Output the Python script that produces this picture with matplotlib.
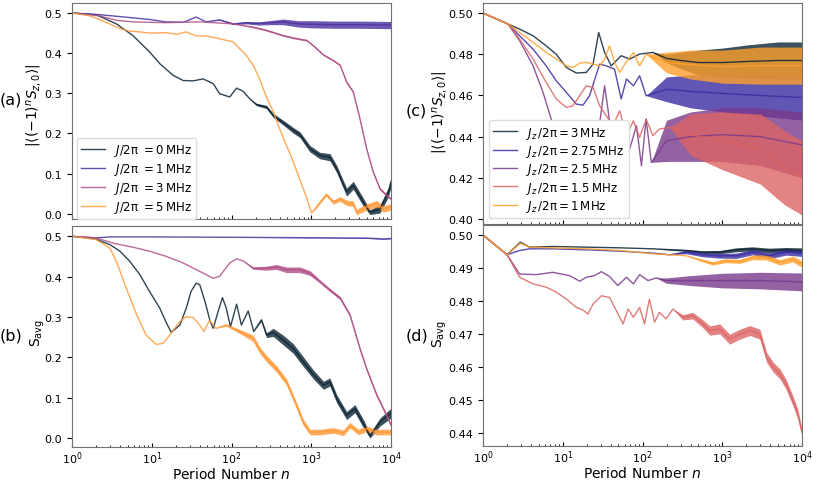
import numpy as np
import matplotlib
matplotlib.use("Agg")
import matplotlib.pyplot as plt

# ---- panel (a): |<(-1)^n S_z,0>| vs period number ----
a_j0_n = [1, 2, 3.6, 5.8, 9.4, 12.6, 18.5, 24.7, 33, 44, 59, 71, 95, 116, 140, 170,
          206, 275, 333, 445, 594, 721, 962, 1285, 1714, 2080, 2778, 3366, 4498, 5450, 7278, 9270, 10000]
a_j0_y = [0.5, 0.496, 0.473, 0.444, 0.403, 0.374, 0.345, 0.332, 0.331, 0.336, 0.324, 0.299, 0.291, 0.313, 0.305, 0.286,
          0.272, 0.266, 0.245, 0.227, 0.208, 0.197, 0.162, 0.145, 0.141, 0.112, 0.054, 0.071, 0.029, 0.004, 0.012, 0.054, 0.079]
a_j0_w = [0] * 16 + [0.003, 0.004, 0.005, 0.006, 0.007, 0.007, 0.008, 0.008, 0.009, 0.009, 0.01, 0.01, 0.01, 0.006, 0.01, 0.012, 0.012]

a_j1_n = [1, 2.2, 5.8, 9.4, 15, 25, 36, 48, 71, 105, 154, 220, 300, 445, 700, 1000, 2000, 4000, 10000]
a_j1_y = [0.5, 0.496, 0.488, 0.484, 0.478, 0.477, 0.49, 0.478, 0.483, 0.473, 0.476, 0.474, 0.476, 0.478, 0.473, 0.472, 0.471, 0.471, 0.470]
a_j1_w = [0, 0, 0, 0, 0, 0, 0, 0, 0.001, 0.002, 0.003, 0.004, 0.005, 0.007, 0.008, 0.009, 0.009, 0.009, 0.009]

a_j3_n = [1, 2.2, 3.6, 5.8, 15, 40, 105, 187, 275, 445, 594, 875, 1060, 1420, 1890, 2300,
          2778, 3366, 4070, 4940, 5980, 7278, 8820, 10000]
a_j3_y = [0.5, 0.493, 0.482, 0.478, 0.476, 0.478, 0.473, 0.465, 0.457, 0.444, 0.438, 0.432, 0.419, 0.396, 0.382, 0.370,
          0.328, 0.303, 0.237, 0.162, 0.104, 0.062, 0.046, 0.037]
a_j3_w = [0] * 7 + [0.002] * 9 + [0.003] * 8

a_j5_n = [1, 1.67, 2.2, 2.97, 3.97, 5.3, 7.1, 9.4, 15.3, 20.5, 27, 36, 48, 64, 86, 105,
          127, 154, 187, 226, 275, 333, 404, 490, 594, 721, 875, 1010, 1160, 1540, 1890, 2300,
          2778, 3366, 3690, 4940, 6640, 8030, 10000]
a_j5_y = [0.5, 0.493, 0.484, 0.473, 0.461, 0.455, 0.453, 0.45, 0.451, 0.447, 0.453, 0.443, 0.443, 0.438, 0.432, 0.428,
          0.411, 0.394, 0.370, 0.335, 0.29, 0.255, 0.21, 0.17, 0.13, 0.085, 0.04, 0.002, 0.017, 0.048, 0.029, 0.037,
          0.027, 0.025, 0.004, 0.017, 0.025, 0.012, 0.017]
a_j5_w = [0] * 28 + [0.003, 0.004, 0.005, 0.006, 0.007, 0.007, 0.007, 0.008, 0.008, 0.008, 0.008]

# ---- panel (b): S_avg ----
b_j0_n = [1, 2, 3, 4, 5.3, 7.1, 9.4, 12.6, 15.3, 17.6, 22.5, 27, 31, 36, 40, 46.6, 54, 59, 68, 77, 86, 97,
          116, 133, 162, 190, 237, 275, 333, 445, 594, 790, 1060, 1420, 1714, 2080, 2778, 3530, 4500, 5450, 7280, 10000]
b_j0_y = [0.5, 0.493, 0.479, 0.463, 0.438, 0.405, 0.363, 0.322, 0.285, 0.262, 0.28, 0.321, 0.363, 0.384, 0.38, 0.338,
          0.289, 0.272, 0.314, 0.348, 0.322, 0.276, 0.332, 0.28, 0.315, 0.264, 0.293, 0.255, 0.262, 0.243, 0.222, 0.19,
          0.158, 0.131, 0.139, 0.098, 0.056, 0.073, 0.036, 0.006, 0.040, 0.062]
b_j0_w = [0] * 26 + [0.003, 0.006, 0.01, 0.012, 0.012, 0.012, 0.011, 0.01, 0.01, 0.01, 0.01, 0.01, 0.01, 0.006, 0.01, 0.012]

b_j1_n = [1, 2, 3, 10, 100, 1000, 5000, 8000, 10000]
b_j1_y = [0.5, 0.496, 0.4985, 0.4985, 0.4975, 0.4965, 0.4955, 0.4935, 0.4945]
b_j1_w = [0, 0, 0, 0, 0, 0.0005, 0.001, 0.001, 0.001]

b_j3_n = [1, 2, 3.27, 5.8, 9.4, 15.3, 24.7, 40, 59, 71, 95, 116, 140, 187, 275, 365,
          490, 721, 962, 1285, 1714, 2300, 3060, 4070, 4940, 6640, 8820, 10000]
b_j3_y = [0.5, 0.496, 0.483, 0.473, 0.463, 0.45, 0.434, 0.413, 0.396, 0.401, 0.434, 0.444, 0.439, 0.421, 0.421, 0.424,
          0.417, 0.417, 0.409, 0.388, 0.367, 0.347, 0.305, 0.222, 0.172, 0.106, 0.056, 0.032]
b_j3_w = [0] * 13 + [0.003, 0.005, 0.006, 0.007, 0.007, 0.006, 0.004, 0.004, 0.004, 0.004, 0.004, 0.004, 0.004, 0.004, 0.004]

b_j5_n = [1, 2, 2.97, 3.6, 4.8, 6.5, 8.5, 11.4, 13.9, 16.8, 22.5, 27, 33, 40, 45, 53,
          64, 86, 105, 140, 187, 226, 275, 365, 490, 653, 790, 962, 1285, 1890, 2530, 3060,
          3900, 4940, 6640, 10000]
b_j5_y = [0.5, 0.492, 0.471, 0.438, 0.371, 0.305, 0.255, 0.232, 0.235, 0.255, 0.289, 0.301, 0.299, 0.280, 0.264, 0.292,
          0.272, 0.280, 0.272, 0.260, 0.247, 0.218, 0.197, 0.172, 0.139, 0.081, 0.040, 0.015, 0.015, 0.019, 0.013, 0.032,
          0.015, 0.023, 0.015, 0.015]
b_j5_w = [0] * 17 + [0.003, 0.004, 0.006, 0.008, 0.008, 0.008, 0.008, 0.008, 0.008, 0.008, 0.007, 0.007, 0.007, 0.007, 0.007,
                     0.007, 0.007, 0.007, 0.007]

# ---- panel (c): |<(-1)^n S_z,0>| for several J_z ----
c_j3_n = [1, 2.06, 2.88, 4.24, 6.2, 8.3, 11.1, 14.8, 19.7, 24, 28.2, 33.5, 40.5, 47, 54, 69, 92, 135,
          200, 300, 500, 1000, 2000, 5000, 10000]
c_j3_y = [0.5, 0.4947, 0.4922, 0.489, 0.4841, 0.480, 0.4736, 0.4709, 0.4712, 0.4752, 0.4906, 0.4809, 0.4744, 0.4769,
          0.4793, 0.4777, 0.4801, 0.4809, 0.478, 0.477, 0.476, 0.476, 0.4765, 0.477, 0.477]
c_j3_w = [0] * 18 + [0.002, 0.004, 0.006, 0.007, 0.008, 0.009, 0.009]

c_j275_n = [1, 2.06, 2.88, 4.24, 6.2, 8.3, 11.1, 14.8, 17.9, 21.7, 29, 35, 44.6, 54, 63, 77, 92, 111,
            200, 400, 1000, 3000, 10000]
c_j275_y = [0.5, 0.4947, 0.489, 0.4825, 0.4744, 0.4671, 0.4615, 0.4558, 0.4553, 0.4599, 0.4752, 0.4744, 0.4728, 0.4583,
            0.468, 0.4647, 0.4696, 0.4599, 0.463, 0.462, 0.461, 0.460, 0.459]
c_j275_w = [0] * 18 + [0.006, 0.008, 0.009, 0.01, 0.011]

c_j25_n = [1, 2.06, 2.88, 4.24, 5.66, 7.6, 10.1, 13.4, 17.1, 21.7, 26.3, 33.5, 40.5, 44.6, 51.7, 60,
           69, 84, 97, 111, 129, 200, 400, 1000, 3000, 10000]
c_j25_y = [0.5, 0.4947, 0.4866, 0.4744, 0.4615, 0.4453, 0.434, 0.4243, 0.4186, 0.4186, 0.434, 0.4647, 0.4421, 0.4194,
           0.4372, 0.4469, 0.434, 0.4453, 0.4259, 0.4485, 0.4275, 0.438, 0.440, 0.441, 0.440, 0.436]
c_j25_w = [0] * 21 + [0.01, 0.012, 0.013, 0.014, 0.016]

c_j15_n = [1, 2.06, 2.88, 4.24, 6.2, 8.3, 11.1, 13.4, 16.3, 19.7, 24, 29, 35, 42.6, 51.7, 63,
           77, 92, 111, 135, 163, 219, 400, 1000, 3000, 6000, 10000]
c_j15_y = [0.5, 0.4947, 0.4874, 0.4777, 0.4663, 0.4583, 0.4542, 0.455, 0.4599, 0.4647, 0.4639, 0.455, 0.4502, 0.4453,
           0.4526, 0.4405, 0.4477, 0.4396, 0.4485, 0.4405, 0.4437, 0.4445, 0.441, 0.438, 0.434, 0.425, 0.42]
c_j15_w = [0] * 22 + [0.01, 0.014, 0.017, 0.018, 0.018]

c_j1_n = [1, 2.06, 2.88, 4.24, 6.2, 8.3, 11.1, 13.4, 16.3, 19.7, 24, 29, 33.5, 38.7, 44.6, 51.7,
          60, 77, 92, 111, 200, 400, 1000, 3000, 10000]
c_j1_y = [0.5, 0.4947, 0.4906, 0.4858, 0.4809, 0.4777, 0.4744, 0.4736, 0.4757, 0.4761, 0.4752, 0.4744, 0.4777, 0.4841,
          0.4761, 0.4712, 0.4752, 0.4809, 0.4744, 0.480, 0.476, 0.475, 0.474, 0.4745, 0.4745]
c_j1_w = [0] * 20 + [0.005, 0.007, 0.008, 0.009, 0.009]

# ---- panel (d): S_avg for several J_z ----
d_j3_n = [1, 2, 2.94, 3.84, 7.5, 19.7, 51.7, 135, 353, 574, 930, 1500, 2410, 3900, 6300, 10000]
d_j3_y = [0.5, 0.494, 0.4978, 0.4963, 0.4965, 0.4963, 0.4961, 0.4958, 0.4953, 0.4948, 0.4948, 0.4955, 0.4958,
          0.4953, 0.4955, 0.4953]
d_j3_w = [0] * 8 + [0.0003, 0.0004, 0.0005, 0.0006, 0.0006, 0.0007, 0.0007, 0.0008]

d_j275_n = [1, 2, 2.88, 3.84, 7.5, 19.7, 51.7, 135, 219, 353, 574, 930, 1500, 2410, 3900, 6300, 10000]
d_j275_y = [0.5, 0.494, 0.4953, 0.4958, 0.4958, 0.4955, 0.4951, 0.4945, 0.494, 0.4948, 0.494, 0.4937, 0.4937,
            0.4948, 0.4937, 0.4948, 0.4945]
d_j275_w = [0] * 9 + [0.0005, 0.0006, 0.0007, 0.0008, 0.0008, 0.0009, 0.0009, 0.001]

d_j25_n = [1, 2, 2.88, 4.66, 7.5, 12.2, 16.3, 19.7, 25, 30.5, 38.7, 49, 63, 77, 92, 117,
           149, 198, 400, 1000, 3000, 10000]
d_j25_y = [0.5, 0.494, 0.4882, 0.488, 0.4887, 0.4877, 0.486, 0.4872, 0.4877, 0.4889, 0.4874, 0.4847, 0.4872, 0.4852,
           0.488, 0.4862, 0.487, 0.4862, 0.4862, 0.4862, 0.4862, 0.4858]
d_j25_w = [0] * 17 + [0.0008, 0.0015, 0.0022, 0.0025, 0.0027]

d_j15_n = [1, 2, 2.88, 4.24, 6.2, 8.3, 11.1, 14.8, 17.9, 20.7, 24, 30.5, 38.7, 47, 57, 66,
           77, 92, 106, 122, 142, 163, 198, 240, 320, 427, 574, 697, 930, 1240, 1660, 2220,
           2960, 3600, 4360, 5290, 6300, 7680, 8870, 10000]
d_j15_y = [0.5, 0.494, 0.4872, 0.4852, 0.4842, 0.4827, 0.4806, 0.4781, 0.4773, 0.4761, 0.4791, 0.4816, 0.4811, 0.4771,
           0.4731, 0.4776, 0.4751, 0.4781, 0.4731, 0.4806, 0.4736, 0.4766, 0.4746, 0.4776, 0.4751, 0.4756, 0.4731,
           0.4711, 0.4716, 0.4685, 0.47, 0.4711, 0.47, 0.463, 0.46, 0.458, 0.4549, 0.4499, 0.4458, 0.4403]
d_j15_w = [0] * 24 + [0.0008, 0.001, 0.0012, 0.0014] + [0.0015] * 11 + [0.001]

d_j1_n = [1, 2, 2.94, 3.84, 7.5, 19.7, 51.7, 135, 219, 353, 574, 763, 1100, 1660, 2410, 3600, 5290, 7680, 10000]
d_j1_y = [0.5, 0.494, 0.4975, 0.4963, 0.4961, 0.4958, 0.4953, 0.4943, 0.494, 0.4937, 0.4922, 0.4914, 0.4922, 0.492,
          0.4932, 0.4932, 0.4917, 0.4927, 0.4912]
d_j1_w = [0] * 10 + [0.0004, 0.0005, 0.0006, 0.0006, 0.0007, 0.0008, 0.0008, 0.0009, 0.001]

labels_left = [r'$J/2\mathrm{\pi}\ = 0\,\mathrm{MHz}$', r'$J/2\mathrm{\pi}\ = 1\,\mathrm{MHz}$',
               r'$J/2\mathrm{\pi}\ = 3\,\mathrm{MHz}$', r'$J/2\mathrm{\pi}\ = 5\,\mathrm{MHz}$']
labels_right = [r'$J_z\,/2\mathrm{\pi} = 3\,\mathrm{MHz}$', r'$J_z\,/2\mathrm{\pi} = 2.75\,\mathrm{MHz}$',
                r'$J_z\,/2\mathrm{\pi} = 2.5\,\mathrm{MHz}$', r'$J_z\,/2\mathrm{\pi} = 1.5\,\mathrm{MHz}$',
                r'$J_z\,/2\mathrm{\pi} = 1\,\mathrm{MHz}$']

colors_left = ['#0c2434', '#4a30a0', '#b04f86', '#ff9a3a']
colors_right = ['#0c2434', '#3a2ca0', '#7a3a8c', '#dc6464', '#ffa02c']

plt.rcParams['axes.edgecolor'] = '#707070'
plt.rcParams['xtick.labelsize'] = 8
plt.rcParams['ytick.labelsize'] = 8

W, H = 830, 481
fig = plt.figure(figsize=(W / 100, H / 100), dpi=100)


def px_axes(left, right, top, bottom):
    return fig.add_axes([left / W, 1 - bottom / H, (right - left) / W, (bottom - top) / H])


ax_a = px_axes(72, 391, 4, 220)
ax_b = px_axes(72, 391, 227, 448)
ax_c = px_axes(483, 802, 4, 225)
ax_d = px_axes(483, 802, 226, 447)


def draw(ax, n, y, w, color, label):
    n = np.array(n, dtype=float)
    y = np.array(y, dtype=float)
    w = np.array(w, dtype=float)
    ax.fill_between(n, y - w, y + w, color=color, alpha=0.8, lw=0)
    ax.plot(n, y, color=color, lw=1.0, alpha=0.85, label=label)


left_a = [(a_j0_n, a_j0_y, a_j0_w), (a_j1_n, a_j1_y, a_j1_w), (a_j3_n, a_j3_y, a_j3_w), (a_j5_n, a_j5_y, a_j5_w)]
left_b = [(b_j0_n, b_j0_y, b_j0_w), (b_j1_n, b_j1_y, b_j1_w), (b_j3_n, b_j3_y, b_j3_w), (b_j5_n, b_j5_y, b_j5_w)]
right_c = [(c_j3_n, c_j3_y, c_j3_w), (c_j275_n, c_j275_y, c_j275_w), (c_j25_n, c_j25_y, c_j25_w),
           (c_j15_n, c_j15_y, c_j15_w), (c_j1_n, c_j1_y, c_j1_w)]
right_d = [(d_j3_n, d_j3_y, d_j3_w), (d_j275_n, d_j275_y, d_j275_w), (d_j25_n, d_j25_y, d_j25_w),
           (d_j15_n, d_j15_y, d_j15_w), (d_j1_n, d_j1_y, d_j1_w)]

for (n, y, w), c, lab in zip(left_a, colors_left, labels_left):
    draw(ax_a, n, y, w, c, lab)
for (n, y, w), c, lab in zip(left_b, colors_left, labels_left):
    draw(ax_b, n, y, w, c, lab)
for (n, y, w), c, lab in zip(right_c, colors_right, labels_right):
    draw(ax_c, n, y, w, c, lab)
for (n, y, w), c, lab in zip(right_d, colors_right, labels_right):
    draw(ax_d, n, y, w, c, lab)

for ax in (ax_a, ax_b, ax_c, ax_d):
    ax.set_xscale('log')
    ax.set_xlim(1, 1e4)
    ax.tick_params(axis='x', which='major', direction='in', length=3, pad=2)
    ax.tick_params(axis='x', which='minor', direction='in', length=1.5)

ax_a.set_ylim(-0.013, 0.525)
ax_b.set_ylim(-0.022, 0.5255)
ax_c.set_ylim(0.3976, 0.5049)
ax_d.set_ylim(0.4362, 0.503)

ax_a.set_yticks([0.0, 0.1, 0.2, 0.3, 0.4, 0.5])
ax_b.set_yticks([0.0, 0.1, 0.2, 0.3, 0.4, 0.5])
ax_a.set_yticklabels(['0.0', '0.1', '0.2', '0.3', '0.4', '0.5'])
ax_b.set_yticklabels(['0.0', '0.1', '0.2', '0.3', '0.4', '0.5'])
ax_c.set_yticks([0.40, 0.42, 0.44, 0.46, 0.48, 0.50])
ax_c.set_yticklabels(['0.40', '0.42', '0.44', '0.46', '0.48', '0.50'])
ax_d.set_yticks([0.44, 0.45, 0.46, 0.47, 0.48, 0.49, 0.50])
ax_d.set_yticklabels(['0.44', '0.45', '0.46', '0.47', '0.48', '0.49', '0.50'])

ax_a.tick_params(labelbottom=False)
ax_c.tick_params(labelbottom=False)

ax_b.set_xlabel(r'Period Number $n$', fontsize=10, labelpad=0)
ax_d.set_xlabel(r'Period Number $n$', fontsize=10, labelpad=0)

ax_a.legend(loc='lower left', bbox_to_anchor=(0.015, 0.0), borderaxespad=0, fontsize=8.5,
            handlelength=2.0, labelspacing=0.25, borderpad=0.35, framealpha=1,
            edgecolor='#dddddd', fancybox=True)
ax_c.legend(loc='lower left', fontsize=8.5, handlelength=2.0, labelspacing=0.2, borderpad=0.35,
            framealpha=1, edgecolor='#dddddd', fancybox=True)

# y labels and panel letters placed in pixel coordinates
fig.text(35 / W, 1 - 105 / H, r'$|\langle(-1)^n S_{z,0}\rangle|$', rotation=90,
         ha='center', va='center', fontsize=10)
fig.text(38 / W, 1 - 333 / H, r'$\mathrm{S_{avg}}$', rotation=90, ha='center', va='center', fontsize=10)
fig.text(440 / W, 1 - 112 / H, r'$|\langle(-1)^n S_{z,0}\rangle|$', rotation=90,
         ha='center', va='center', fontsize=10)
fig.text(440 / W, 1 - 334 / H, r'$\mathrm{S_{avg}}$', rotation=90, ha='center', va='center', fontsize=10)

fig.text(11 / W, 1 - 100 / H, '(a)', ha='center', va='center', fontsize=11.5)
fig.text(11 / W, 1 - 336 / H, '(b)', ha='center', va='center', fontsize=11.5)
fig.text(416 / W, 1 - 111 / H, '(c)', ha='center', va='center', fontsize=11.5)
fig.text(417 / W, 1 - 336 / H, '(d)', ha='center', va='center', fontsize=11.5)

fig.savefig('out.png', dpi=100)
